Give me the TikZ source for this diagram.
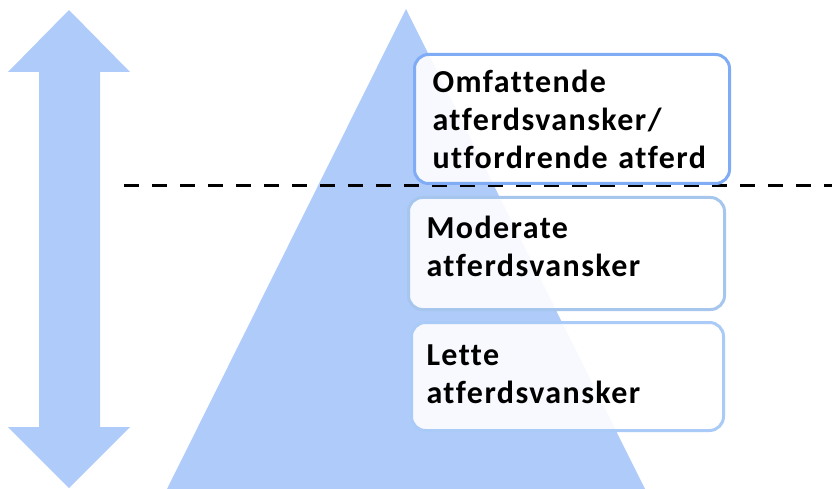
\documentclass[tikz,border=0pt]{standalone}
\usepackage{fontspec}
\setmainfont{Carlito}[LetterSpace=4.5,Ligatures=NoCommon]
\usepackage{tikz}
\usetikzlibrary{positioning}
\usepackage{xcolor}

\definecolor{pyrblue}{RGB}{174,203,250}
\definecolor{topedge}{RGB}{128,172,246}
\definecolor{midedge}{RGB}{166,198,238}
\definecolor{lowedge}{RGB}{170,203,248}

\begin{document}
\begin{tikzpicture}[x=1pt,y=-1pt,node distance=12pt]
  \tikzstyle{level}=[draw,line width=3pt,rounded corners=14pt,fill=white,fill opacity=0.9,
    text opacity=1,align=left,inner xsep=18pt,
    font=\fontsize{32}{38}\selectfont\bfseries]

  \useasboundingbox (0,0) rectangle (832,489);

  % double arrow and pyramid
  \fill[pyrblue] (69,10) -- (130,72) -- (100,72) -- (100,427) -- (130,427) -- (69,488)
    -- (8,427) -- (39,427) -- (39,72) -- (8,72) -- cycle;
  \fill[pyrblue] (406,9) -- (645,489) -- (167,489) -- cycle;

  \draw[line width=3pt,dash pattern=on 15pt off 13pt] (124,186) -- (832,186);

  \node[level,draw=topedge,text width=279pt,minimum height=129pt,anchor=north west]
    (omf) at (413,53) {Omfattende\\atferdsvansker/\\utfordrende atferd};
  \node[level,draw=midedge,text width=280pt,minimum height=112pt,text depth=52pt]
    (mod) [below=11pt of omf.south west,anchor=north west,xshift=-6pt] {Moderate\\atferdsvansker};
  \node[level,draw=lowedge,text width=282pt,minimum height=108pt,inner xsep=15pt,text depth=43pt]
    (let) [below=10pt of mod.south west,anchor=north west,xshift=3pt] {Lette\\atferdsvansker};
\end{tikzpicture}
\end{document}
